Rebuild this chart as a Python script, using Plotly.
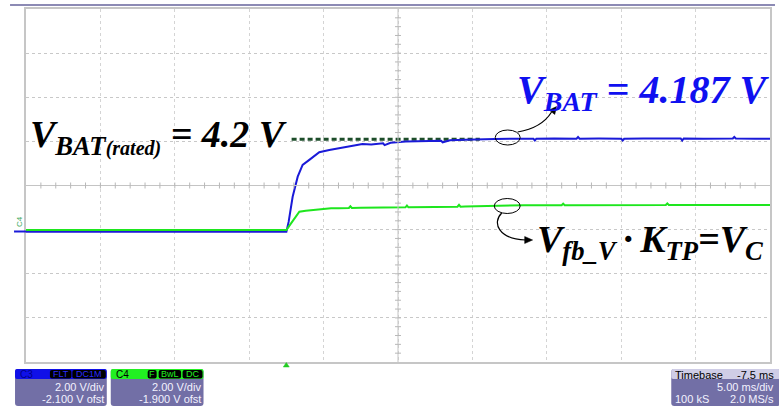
import plotly.graph_objects as go

# ---- Channel 3 (V_BAT), volts, time in ms relative to trigger ----
c3_time = [-17.5, -0.05, 0.0, 0.15, 0.42, 0.76, 1.09, 1.54, 2.21, 2.88, 3.5, 4.0,
           4.6, 5.11, 5.7, 6.23, 6.5, 6.6, 7.0, 8.02, 9.0, 10.0, 10.4, 10.5, 11.0,
           12.0, 12.9, 14.0, 15.0, 16.0, 16.6, 16.7, 16.8, 18.0, 19.0, 19.5, 19.6,
           19.7, 21.0, 22.0, 22.5, 22.6, 22.7, 24.0, 25.0, 26.0, 26.5, 26.6, 26.7,
           28.0, 29.5, 30.0, 30.1, 30.2, 31.5, 32.5]
c3_volts = [0.0, 0.0, 0.0, 0.45, 1.59, 2.50, 3.03, 3.26, 3.61, 3.71, 3.78, 3.86,
            3.91, 3.98, 3.96, 4.01, 4.01, 3.93, 4.04, 4.09, 4.11, 4.13, 4.13, 4.06, 4.15,
            4.17, 4.20, 4.21, 4.22, 4.22, 4.22, 4.14, 4.22, 4.23, 4.22, 4.22, 4.30,
            4.22, 4.23, 4.22, 4.22, 4.14, 4.22, 4.23, 4.22, 4.23, 4.23, 4.14, 4.23,
            4.22, 4.23, 4.23, 4.30, 4.23, 4.22, 4.22]

# ---- Channel 4 (V_fb_V * K_TP), volts ----
c4_time = [-17.5, 0.0, 0.3, 0.87, 1.3, 1.77, 2.43, 3.0, 3.5, 4.2, 4.3, 4.4, 5.0,
           6.5, 8.0, 8.1, 8.2, 10.0, 11.5, 11.6, 11.7, 12.0, 14.0, 16.0, 18.5, 18.6,
           18.7, 21.0, 24.0, 25.5, 25.6, 25.7, 28.0, 30.0, 32.5]
c4_volts = [-0.12, -0.12, 0.17, 0.71, 0.76, 0.79, 0.86, 0.87, 0.87, 0.88, 0.96, 0.88, 0.89,
            0.90, 0.91, 0.99, 0.91, 0.93, 0.94, 1.02, 0.94, 0.95, 0.99, 1.01, 1.01, 1.08,
            1.01, 1.02, 1.02, 1.02, 1.09, 1.02, 1.02, 1.02, 1.02]

# Scope settings
C3_VDIV, C3_OFST = 2.0, -2.1
C4_VDIV, C4_OFST = 2.0, -1.9
T_DIV, T_DELAY = 5.0, -7.5
V_RATED = 4.2
V_BAT_FINAL = 4.187

t_center = -T_DELAY
x_range = [t_center - 5 * T_DIV, t_center + 5 * T_DIV]
y3_range = [-C3_OFST - 4 * C3_VDIV, -C3_OFST + 4 * C3_VDIV]
y4_range = [-C4_OFST - 4 * C4_VDIV, -C4_OFST + 4 * C4_VDIV]

# Plot area geometry (pixels)
L, T, W, H = 26, 9, 746, 353
FIG_W, FIG_H = 779, 410


def px(x):
    return (x - L) / W


def py(y):
    return (T + H - y) / H


def rounded_rect(x0, y0, x1, y1, r):
    return (f"M {px(x0 + r)} {py(y0)} L {px(x1 - r)} {py(y0)} "
            f"Q {px(x1)} {py(y0)} {px(x1)} {py(y0 + r)} L {px(x1)} {py(y1 - r)} "
            f"Q {px(x1)} {py(y1)} {px(x1 - r)} {py(y1)} L {px(x0 + r)} {py(y1)} "
            f"Q {px(x0)} {py(y1)} {px(x0)} {py(y1 - r)} L {px(x0)} {py(y0 + r)} "
            f"Q {px(x0)} {py(y0)} {px(x0 + r)} {py(y0)} Z")


def poly(points):
    return "M " + " L ".join(f"{px(a)} {py(b)}" for a, b in points) + " Z"


BLUE = "#1a1ad8"
GREEN = "#1ee61e"
BOX = "#726fa6"

fig = go.Figure()

# Rated voltage reference (dashed)
fig.add_trace(go.Scatter(x=[0.35, 13.0], y=[V_RATED, V_RATED], mode="lines",
                         line=dict(color="#1d4d2a", width=3, dash="5px,3px"),
                         hoverinfo="skip", showlegend=False))
fig.add_trace(go.Scatter(x=c4_time, y=c4_volts, yaxis="y2", mode="lines",
                         line=dict(color=GREEN, width=2), showlegend=False))
fig.add_trace(go.Scatter(x=c3_time, y=c3_volts, mode="lines",
                         line=dict(color=BLUE, width=2), showlegend=False))

shapes = []
annotations = []

# Center cross with minor ticks
yc = -C3_OFST
shapes.append(dict(type="line", xref="x", yref="y", x0=x_range[0], x1=x_range[1],
                   y0=yc, y1=yc, line=dict(color="#c4c4c4", width=1)))
shapes.append(dict(type="line", xref="x", yref="y", x0=t_center, x1=t_center,
                   y0=y3_range[0], y1=y3_range[1], line=dict(color="#c4c4c4", width=1)))
tick_h = 3 * (C3_VDIV / 44.1)
for k in range(1, 50):
    t = x_range[0] + k * T_DIV / 5
    shapes.append(dict(type="line", xref="x", yref="y", x0=t, x1=t,
                       y0=yc - tick_h, y1=yc + tick_h, line=dict(color="#b8b8b8", width=1)))
tick_w = 3 * (T_DIV / 74.6)
for k in range(1, 40):
    v = y3_range[0] + k * C3_VDIV / 5
    shapes.append(dict(type="line", xref="x", yref="y", x0=t_center - tick_w,
                       x1=t_center + tick_w, y0=v, y1=v, line=dict(color="#b8b8b8", width=1)))

# Top frame line
shapes.append(dict(type="line", xref="paper", yref="paper", x0=px(10), x1=px(777),
                   y0=py(5), y1=py(5), line=dict(color="#8c8ab4", width=2)))

# Ellipses and curved arrows
shapes.append(dict(type="circle", xref="paper", yref="paper", x0=px(496.5), x1=px(521.5),
                   y0=py(145), y1=py(130), line=dict(color="black", width=1)))
shapes.append(dict(type="circle", xref="paper", yref="paper", x0=px(495.5), x1=px(521.5),
                   y0=py(213.5), y1=py(198.5), line=dict(color="black", width=1)))
shapes.append(dict(type="path", xref="paper", yref="paper",
                   path=f"M {px(519)} {py(132)} Q {px(543)} {py(128)} {px(553)} {py(112)}",
                   line=dict(color="black", width=1.2)))
shapes.append(dict(type="path", xref="paper", yref="paper",
                   path=poly([(558, 106.5), (556.2, 114.5), (550.5, 110)]),
                   fillcolor="black", line=dict(color="black", width=0.5)))
shapes.append(dict(type="path", xref="paper", yref="paper",
                   path=f"M {px(503)} {py(213)} C {px(493)} {py(223)} {px(500)} {py(239)} {px(527)} {py(240)}",
                   line=dict(color="black", width=1.2)))
shapes.append(dict(type="path", xref="paper", yref="paper",
                   path=poly([(534, 240), (526, 236.5), (526, 243.5)]),
                   fillcolor="black", line=dict(color="black", width=0.5)))

# Trigger marker and ground markers
shapes.append(dict(type="path", xref="paper", yref="paper",
                   path=poly([(287, 362.5), (284, 367), (290, 367)]),
                   fillcolor="#22cc22", line=dict(color="#22cc22", width=0.5)))
shapes.append(dict(type="line", xref="paper", yref="paper", x0=px(14), x1=px(26),
                   y0=py(231.5), y1=py(231.5), line=dict(color=BLUE, width=2)))
annotations.append(dict(xref="paper", yref="paper", x=px(19), y=py(222), text="C4",
                        xanchor="center", yanchor="middle",
                        showarrow=False, font=dict(family="Liberation Sans", size=8, color="#3aa85a"),
                        textangle=-90))

# Channel / timebase boxes
shapes.append(dict(type="path", xref="paper", yref="paper", path=rounded_rect(15, 369, 107, 406, 3),
                   fillcolor=BOX, line=dict(width=0)))
shapes.append(dict(type="path", xref="paper", yref="paper", path=rounded_rect(15, 369, 107, 379, 2),
                   fillcolor="#1010e8", line=dict(width=0)))
shapes.append(dict(type="path", xref="paper", yref="paper", path=rounded_rect(111, 369, 204, 406, 3),
                   fillcolor=BOX, line=dict(width=0)))
shapes.append(dict(type="path", xref="paper", yref="paper", path=rounded_rect(111, 369, 204, 379, 2),
                   fillcolor="#22f022", line=dict(width=0)))
shapes.append(dict(type="path", xref="paper", yref="paper", path=rounded_rect(673, 369, 782, 406, 3),
                   fillcolor=BOX, line=dict(width=0)))
shapes.append(dict(type="path", xref="paper", yref="paper", path=rounded_rect(673, 369, 782, 379, 2),
                   fillcolor="#cfcde6", line=dict(width=0)))

# Black tag boxes in channel headers
tags = [(50, 71.5, "FLT", "#2a2aff"), (72.5, 106, "DC1M", "#2a2aff"),
        (148, 157, "F", "#22f022"), (159, 181.5, "BwL", "#22f022"), (183, 203, "DC", "#22f022")]
for x0, x1, label, col in tags:
    shapes.append(dict(type="path", xref="paper", yref="paper", path=rounded_rect(x0, 370, x1, 378.5, 2),
                       fillcolor="black", line=dict(width=0)))
    annotations.append(dict(xref="paper", yref="paper", x=px((x0 + x1) / 2), y=py(374.3), text=label,
                            xanchor="center", yanchor="middle",
                            showarrow=False, font=dict(family="Liberation Sans", size=9, color=col)))


def box_text(x, y, text, color="#f2f2ff", anchor="right", size=11):
    annotations.append(dict(xref="paper", yref="paper", x=px(x), y=py(y), text=text, showarrow=False,
                            xanchor=anchor, yanchor="middle",
                            font=dict(family="Liberation Sans", size=size, color=color)))


box_text(18, 374.5, "C3", color="#00008a", anchor="left", size=10)
box_text(106, 387, f"{C3_VDIV:.2f} V/div")
box_text(106, 399, f"{C3_OFST:.3f} V ofst")
box_text(114, 374.5, "C4", color="black", anchor="left", size=10)
box_text(203, 387, f"{C4_VDIV:.2f} V/div")
box_text(203, 399, f"{C4_OFST:.3f} V ofst")
box_text(675, 374.5, "Timebase", color="black", anchor="left")
box_text(778, 374.5, f"{T_DELAY} ms", color="black")
box_text(778, 387, f"{T_DIV:.2f} ms/div")
box_text(675, 399, "100 kS", anchor="left")
box_text(778, 399, "2.0 MS/s")

# Equation labels
serif = "Liberation Serif"
annotations.append(dict(xref="paper", yref="paper", x=px(28), y=py(137), xanchor="left", yanchor="middle",
                        showarrow=False,
                        text="V<sub>BAT<span style='font-size:20px'>(rated)</span></sub> = 4.2 V",
                        font=dict(family=serif, size=38, color="black", weight="bold", style="italic")))
annotations.append(dict(xref="paper", yref="paper", x=px(516), y=py(92), xanchor="left", yanchor="middle",
                        showarrow=False,
                        text=f"V<sub>BAT</sub> = {V_BAT_FINAL} V",
                        font=dict(family=serif, size=40, color="#1010f0", weight="bold", style="italic")))
annotations.append(dict(xref="paper", yref="paper", x=px(536), y=py(242), xanchor="left", yanchor="middle",
                        showarrow=False,
                        text="V<sub>fb_V</sub>\u2009·\u2009K<sub>TP</sub>=V<sub>C</sub>",
                        font=dict(family=serif, size=38, color="black", weight="bold", style="italic")))

fig.update_layout(
    width=FIG_W, height=FIG_H,
    margin=dict(l=L, r=FIG_W - L - W, t=T, b=FIG_H - T - H),
    paper_bgcolor="white", plot_bgcolor="white",
    showlegend=False,
    xaxis=dict(range=x_range, tick0=x_range[0], dtick=T_DIV, showticklabels=False, ticks="",
               showgrid=True, gridcolor="#d4d4d4", gridwidth=1, griddash="dot",
               zeroline=False, showline=True, mirror=True, linecolor="#c6c6c6", linewidth=2),
    yaxis=dict(range=y3_range, tick0=y3_range[0], dtick=C3_VDIV, showticklabels=False, ticks="",
               showgrid=True, gridcolor="#c8c8c8", gridwidth=1, griddash="dot",
               zeroline=False, showline=True, mirror=True, linecolor="#c6c6c6", linewidth=2),
    yaxis2=dict(range=y4_range, overlaying="y", visible=False),
    shapes=shapes,
    annotations=annotations,
)

fig.write_html("out.html")
